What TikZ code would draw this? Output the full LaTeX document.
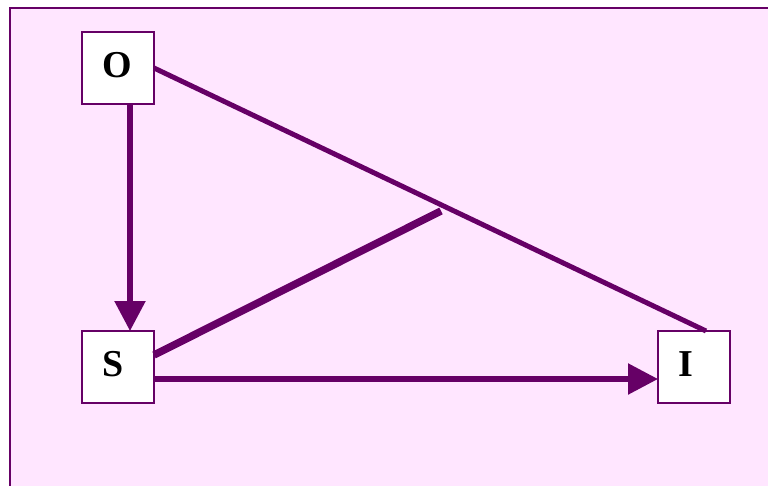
\documentclass[tikz,border=0pt]{standalone}
\usepackage{fontspec}
\setmainfont{Liberation Serif}
\usepackage{tikz}
\usetikzlibrary{positioning}
\usetikzlibrary{arrows.meta}
\definecolor{plum}{RGB}{102,0,102}
\definecolor{blush}{RGB}{255,230,255}

\begin{document}
\begin{tikzpicture}[x=1pt,y=-1pt]

                \def\dv{227pt}
                \def\dh{504pt}

                % Boxes for the variables and the connecting paths
                \tikzset{var/.style={draw=plum, line width=1.4pt, fill=white,
                    inner xsep=20pt, inner ysep=20pt, outer sep=0pt,
                    text width=32pt, text height=25pt, text depth=7pt,
                    align=left, font=\fontsize{38}{38}\selectfont\bfseries}}
                \tikzset{edge/.style={draw=plum, line width=5.5pt}}
                \tikzset{arr/.style={edge, -{Triangle[length=30pt,width=30pt]}}}

                \useasboundingbox (0,0) rectangle (768,485);
                \draw[plum, fill=blush, line width=1.8pt] (10,8) rectangle (790,505);

                % Scope used to place the variables
                \begin{scope}

                    \node[var] (O) at (118,68) {O};
                    \node[var] (S) [below=\dv of O] {S};
                    \node[var] (I) [right=\dh of S] {I};
                    \coordinate (M) at (441,211);
                \end{scope}

                \begin{scope}
                    \draw[arr] ([xshift=12pt]O.south) -- ([xshift=12pt]S.north);
                    \draw[arr] ([yshift=-12pt]S.east) -- ([yshift=-12pt]I.west);
                    \draw[edge, line width=5pt] (O.east) -- ([xshift=12pt]I.north);
                    \draw[edge, line width=7.5pt] ([yshift=12pt]S.east) -- (M);
                \end{scope}

\end{tikzpicture}
\end{document}
